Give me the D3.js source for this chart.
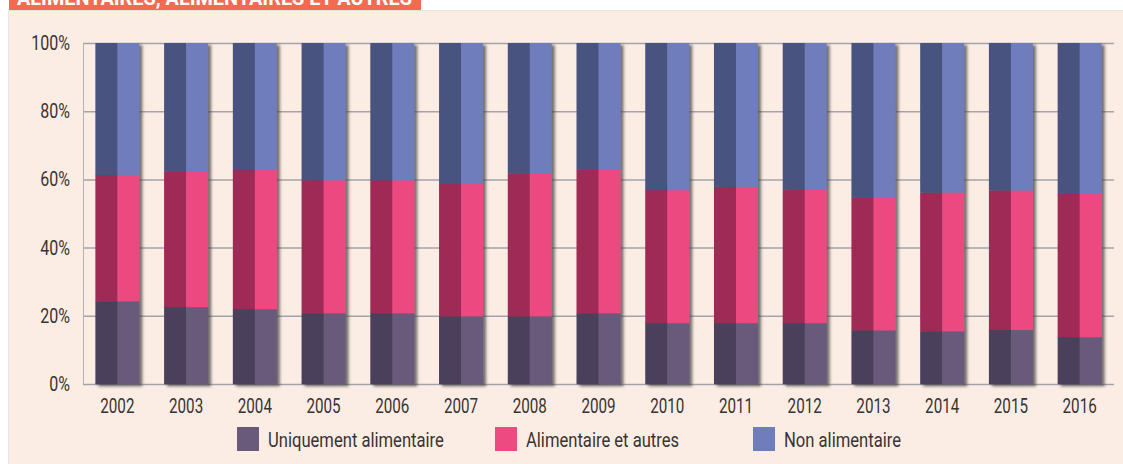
<!DOCTYPE html>
<html>
  <head>
    <meta charset="utf-8">
    <title>index.html</title>
    <script type="text/javascript" src="https://cdn.jsdelivr.net/npm/d3@7"></script>
    <style type="text/css">
      body { margin: 0; background: #ffffff; }
      text { font-family: "Roboto", "Liberation Sans", sans-serif; }
    </style>
  </head>
  <body>
    <script type="text/javascript">
      var w = 1123;
      var h = 464;

      // données (%)
      var years = ["2002", "2003", "2004", "2005", "2006", "2007", "2008", "2009",
                   "2010", "2011", "2012", "2013", "2014", "2015", "2016"];
      var uniquement = [24.3, 22.6, 22.0, 20.8, 20.8, 19.9, 19.9, 20.8, 17.9, 17.9, 17.9, 15.8, 15.5, 15.9, 13.8];
      var alimAutres = [37.0, 39.7, 40.8, 39.0, 39.0, 38.8, 41.9, 42.1, 39.0, 40.0, 39.2, 38.9, 40.7, 40.9, 42.0];
      var nonAlim    = [38.7, 37.7, 37.2, 40.2, 40.2, 41.3, 38.2, 37.1, 43.1, 42.1, 42.9, 45.3, 43.8, 43.2, 44.2];
      var yTicks = [0, 20, 40, 60, 80, 100];
      var seriesNames = ["Uniquement alimentaire", "Alimentaire et autres", "Non alimentaire"];
      var keys = ["u", "a", "n"];

      // couleurs : [moitié gauche, moitié droite]
      var colors = {
        u: ["#4b405c", "#695a7b"],
        a: ["#9e2a55", "#ec4a80"],
        n: ["#4a5280", "#6f7dbc"]
      };

      var textColor = "#383333";

      // police condensée simulée
      function squeeze(factor) {
        return function(sel) {
          sel.each(function() {
            var len = this.getComputedTextLength();
            d3.select(this).attr("textLength", len * factor).attr("lengthAdjust", "spacingAndGlyphs");
          });
        };
      }

      var table = years.map(function(y, i) {
        return { year: y, u: uniquement[i], a: alimAutres[i], n: nonAlim[i] };
      });

      var svg = d3.select("body").append("svg")
                  .attr("width", w)
                  .attr("height", h);

      var defs = svg.append("defs");
      var f = defs.append("filter").attr("id", "shadow")
                  .attr("x", "-20%").attr("y", "-5%").attr("width", "150%").attr("height", "115%");
      f.append("feDropShadow").attr("dx", 3).attr("dy", 2).attr("stdDeviation", 1.6)
       .attr("flood-color", "#444").attr("flood-opacity", 0.75);

      // bandeau titre (coupé en haut, comme dans l'original)
      svg.append("rect").attr("x", 9).attr("y", 0).attr("width", 412).attr("height", 10).attr("fill", "#f26b50");
      svg.append("text").attr("x", 17).attr("y", 5)
         .attr("fill", "#ffffff").attr("font-weight", "bold").attr("font-size", 20)
         .attr("textLength", 395).attr("lengthAdjust", "spacingAndGlyphs")
         .text("ALIMENTAIRES, ALIMENTAIRES ET AUTRES");

      // fond du panneau
      svg.append("rect").attr("x", 8).attr("y", 10).attr("width", w - 8).attr("height", 1).attr("fill", "#e6e3e2");
      svg.append("rect").attr("x", 8).attr("y", 11).attr("width", w - 8).attr("height", h - 11).attr("fill", "#fcede4");
      svg.append("rect").attr("x", 8).attr("y", 11).attr("width", 1).attr("height", h - 11).attr("fill", "#e9e4e2");

      var x = d3.scaleBand().domain(years).range([83, 1114]).paddingInner(0.36).paddingOuter(0.18);
      var y = d3.scaleLinear().domain([0, 100]).range([384, 43]);

      // grille
      svg.append("g").selectAll("line").data(yTicks).enter().append("line")
         .attr("x1", 83).attr("x2", 1114)
         .attr("y1", function(d) { return y(d) + 0.5; })
         .attr("y2", function(d) { return y(d) + 0.5; })
         .attr("stroke", "#a3a3ab").attr("stroke-width", 1.5);
      svg.append("line").attr("x1", 83.5).attr("x2", 83.5).attr("y1", y(100)).attr("y2", y(0))
         .attr("stroke", "#b5b2b5").attr("stroke-width", 1);

      // axe Y
      var yAxis = d3.axisLeft(y).tickValues(yTicks).tickSize(0).tickPadding(0)
                    .tickFormat(function(d) { return d + "%"; });
      var gy = svg.append("g").attr("transform", "translate(70,0)").call(yAxis);
      gy.select(".domain").remove();
      gy.selectAll("text").attr("font-size", 20).attr("fill", textColor)
        .attr("font-family", "Roboto, sans-serif").call(squeeze(0.8));

      // axe X
      var xAxis = d3.axisBottom(x).tickSize(0).tickPadding(0);
      var gx = svg.append("g").attr("transform", "translate(0,399)").call(xAxis);
      gx.select(".domain").remove();
      gx.selectAll("text").attr("font-size", 20).attr("fill", textColor)
        .attr("font-family", "Roboto, sans-serif").call(squeeze(0.76));

      // barres empilées
      var stacked = d3.stack().keys(keys)(table);
      var half = x.bandwidth() / 2;

      var bars = svg.append("g").selectAll("g.bar").data(years).enter().append("g")
                    .attr("class", "bar").attr("filter", "url(#shadow)");

      bars.each(function(yr, i) {
        var g = d3.select(this);
        stacked.forEach(function(s) {
          var seg = s[i];
          [0, 1].forEach(function(side) {
            g.append("rect")
             .attr("x", x(yr) + side * half)
             .attr("y", y(seg[1]))
             .attr("width", half + (side === 0 ? 0.5 : 0))
             .attr("height", y(seg[0]) - y(seg[1]) + 0.3)
             .attr("fill", colors[s.key][side]);
          });
        });
      });

      // légende
      var legendX = [237, 495, 753];
      var leg = svg.append("g").selectAll("g").data(keys).enter().append("g")
                   .attr("transform", function(d, i) { return "translate(" + legendX[i] + ",427)"; });
      leg.append("rect").attr("width", 22).attr("height", 24)
         .attr("fill", function(d) { return colors[d][1]; });
      leg.append("text").attr("x", 31).attr("y", 20).attr("font-size", 20).attr("fill", textColor)
         .text(function(d, i) { return seriesNames[i]; })
         .call(squeeze(0.83));
    </script>
  </body>
</html>
